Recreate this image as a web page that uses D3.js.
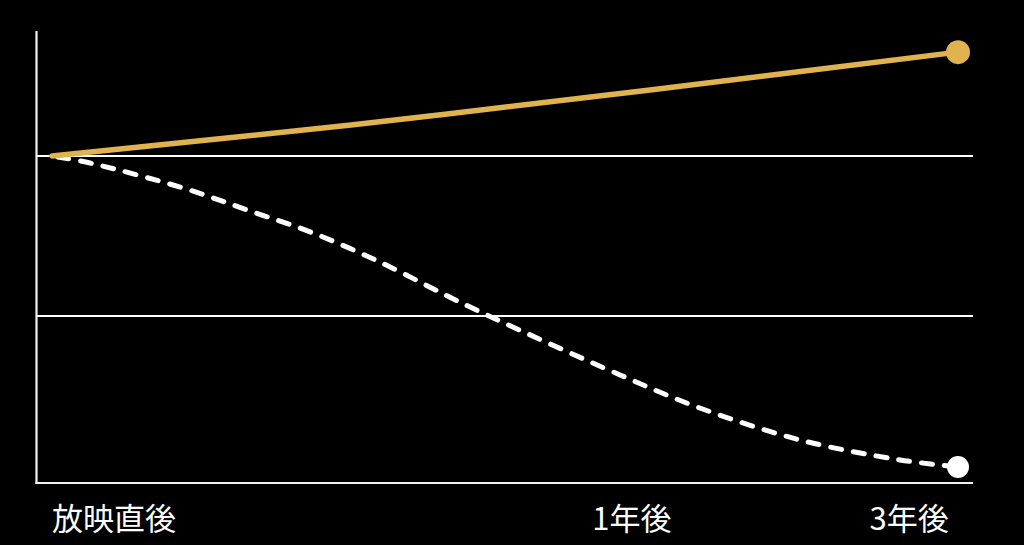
<!DOCTYPE html>
<html><head><meta charset="utf-8">
<script src="https://cdn.jsdelivr.net/npm/d3@7"></script>
<style>html,body{margin:0;padding:0;background:#000;}svg{display:block;}</style>
</head><body>
<svg id="c" width="1024" height="545"></svg>
<script>
// progress along time axis (0 = 放映直後, 100 = 3年後)
const tickLabels = ["放映直後", "1年後", "3年後"];
const tickPositions = [0, 64, 94.6];
const tickAnchors = ["start", "middle", "middle"];
const gridValues = [100, 50];

const goldX = [0, 33, 66, 100];
const goldY = [100, 109.7, 120.6, 132.4];

const whiteX = [0, 4.2, 14.5, 21.5, 28.8, 36.2, 43.6, 48, 62.7, 71.5, 82.6, 93.6, 100];
const whiteY = [100, 97.8, 90.0, 83.2, 76.0, 66.9, 56.4, 50.4, 31.7, 21.4, 11.4, 5.2, 3.0];

const svg = d3.select("#c");
svg.append("rect").attr("width",1024).attr("height",545).attr("fill","#000");

const x = d3.scaleLinear().domain([0,100]).range([52,958]);
const y = d3.scaleLinear().domain([-2,100]).range([483,156]);
const axisLeft = 36.5, axisRight = 973, axisTop = 31;

// gridlines
svg.selectAll("line.grid").data(gridValues).enter().append("line")
  .attr("x1", axisLeft).attr("x2", axisRight)
  .attr("y1", d=>Math.round(y(d))).attr("y2", d=>Math.round(y(d)))
  .attr("stroke","#fff").attr("stroke-width",2.2);

// axes
svg.append("line").attr("x1",axisLeft).attr("x2",axisLeft).attr("y1",axisTop).attr("y2",y(-2)+1)
  .attr("stroke","#f2f2f2").attr("stroke-width",2.2);
svg.append("line").attr("x1",axisLeft-1).attr("x2",axisRight).attr("y1",y(-2)).attr("y2",y(-2))
  .attr("stroke","#f2f2f2").attr("stroke-width",2.2);

const line = d3.line().x(d=>x(d[0])).y(d=>y(d[1])).curve(d3.curveCatmullRom.alpha(0.5));
const whiteData = whiteX.map((v,i)=>[v, whiteY[i]]);
const goldData = goldX.map((v,i)=>[v, goldY[i]]);

svg.append("path").attr("d", line(whiteData)).attr("fill","none")
  .attr("stroke","#fff").attr("stroke-width",5)
  .attr("stroke-dasharray","11 12").attr("stroke-dashoffset",-6).attr("stroke-linecap","round");
svg.append("circle").attr("cx",x(whiteX[whiteX.length-1])).attr("cy",y(whiteY[whiteY.length-1]))
  .attr("r",11).attr("fill","#fff");

svg.append("path").attr("d", line(goldData)).attr("fill","none")
  .attr("stroke","#E1B34F").attr("stroke-width",5.5).attr("stroke-linecap","round");
svg.append("circle").attr("cx",x(goldX[goldX.length-1])).attr("cy",y(goldY[goldY.length-1]))
  .attr("r",12).attr("fill","#E1B34F");

// x labels
svg.selectAll("text.tick").data(tickLabels).enter().append("text")
  .attr("x",(d,i)=>x(tickPositions[i])).attr("y",530)
  .attr("text-anchor",(d,i)=>tickAnchors[i])
  .attr("fill","#fff")
  .style("font-family","'Noto Sans CJK JP', 'Noto Sans', sans-serif")
  .style("font-size","31px")
  .text(d=>d);
</script>
</body></html>
